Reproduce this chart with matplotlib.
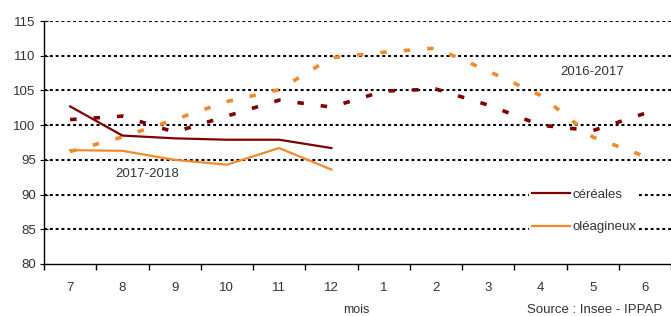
import matplotlib.pyplot as plt

plt.rcParams['font.family'] = ['Liberation Sans', 'DejaVu Sans']

mois = ['7', '8', '9', '10', '11', '12', '1', '2', '3', '4', '5', '6']

# campagne 2016-2017 (pointillés)
cereales_1617 = [100.8, 101.3, 99.0, 101.3, 103.6, 102.6, 104.9, 105.2, 102.9, 100.0, 99.2, 101.7]
oleagineux_1617 = [96.2, 98.3, 100.8, 103.4, 105.1, 109.7, 110.5, 111.1, 107.8, 104.3, 98.3, 95.5]

# campagne 2017-2018 (traits pleins)
cereales_1718 = [102.7, 98.5, 98.1, 97.9, 97.9, 96.7]
oleagineux_1718 = [96.4, 96.3, 95.0, 94.3, 96.7, 93.6]

rouge = '#800000'
orange = '#F28A2A'
gris = '#333333'

fig = plt.figure(figsize=(6.71, 3.16), dpi=100)
ax = fig.add_axes([44 / 671, 1 - 264 / 316, 627 / 671, 243 / 316])

x_all = list(range(1, 13))
x_half = list(range(1, 7))

# Grid lines
for v in [85, 90, 95, 100, 105, 110, 115]:
    ax.axhline(v, color='black', linewidth=1.5, linestyle=(0, (1.4, 1.4)), zorder=1)

ax.plot(x_all, cereales_1617, color=rouge, linewidth=2.6, linestyle=(0, (1.8, 4.7)), zorder=2)
ax.plot(x_all, oleagineux_1617, color=orange, linewidth=2.6, linestyle=(0, (1.8, 4.7)), zorder=2)
ax.plot(x_half, cereales_1718, color=rouge, linewidth=1.6, label='céréales', zorder=3)
ax.plot(x_half, oleagineux_1718, color=orange, linewidth=1.6, label='oléagineux', zorder=3)

ax.set_xlim(0.5, 12.5)
ax.set_ylim(80, 115)
ax.set_yticks([80, 85, 90, 95, 100, 105, 110, 115])
ax.set_xticks(x_all)
ax.set_xticklabels(mois)
ax.set_xticks([i + 0.5 for i in range(0, 13)], minor=True)
ax.tick_params(axis='x', which='major', length=0, labelsize=9.5, pad=13, colors=gris)
ax.tick_params(axis='x', which='minor', length=4, direction='out', width=1)
ax.tick_params(axis='y', length=6, direction='inout', labelsize=9.5, pad=3, colors=gris)
ax.tick_params(axis='both', which='both', color='black')

for side in ['top', 'right']:
    ax.spines[side].set_visible(False)
ax.spines['left'].set_linewidth(1)
ax.spines['bottom'].set_linewidth(1)

ax.text(11.0, 107.65, '2016-2017', fontsize=9.5, color=gris, ha='center', va='center')
ax.text(2.48, 93.0, '2017-2018', fontsize=9.5, color=gris, ha='center', va='center')

leg = ax.legend(loc='center left', bbox_to_anchor=(529 / 671, 1 - 211 / 316),
                bbox_transform=fig.transFigure, fontsize=9.5, frameon=True,
                handlelength=2.9, handletextpad=0.2, labelspacing=1.55,
                borderpad=0.2, borderaxespad=0, fancybox=False)
leg.get_frame().set_facecolor('white')
leg.get_frame().set_edgecolor('none')
leg.get_frame().set_alpha(1)
leg.set_zorder(5)
for t in leg.get_texts():
    t.set_color(gris)

fig.text(356 / 671, 1 - 310 / 316, 'mois', fontsize=9, color=gris, ha='center', va='center')
fig.text(662 / 671, 1 - 310 / 316, 'Source : Insee - IPPAP', fontsize=9.5, color=gris,
         ha='right', va='center')

fig.savefig('out.png', dpi=100)
